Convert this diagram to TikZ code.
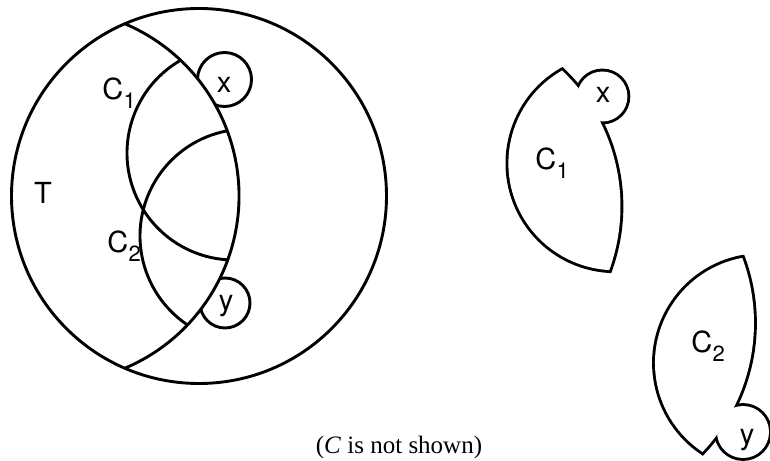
\documentclass[tikz,border=0pt]{standalone}
\usepackage{fontspec}
\setmainfont{Liberation Serif}
\newfontfamily\lettfont{TeX Gyre Heros}
\newcommand{\Csub}[1]{C\kern0.3pt\raisebox{-0.3em}{\fontsize{22}{22}\selectfont #1}}
\begin{document}
\begin{tikzpicture}[x=1pt,y=1pt,line width=2.9pt,line join=miter,
  lbl/.style={font=\lettfont\fontsize{29}{29}\selectfont,inner sep=0pt},
  captext/.style={font=\fontsize{25}{25}\selectfont,inner sep=0pt},
  outl/.style={line width=5.8pt}]
\useasboundingbox (0,0) rectangle (770,460);
% centres
\coordinate (A) at (52,264);
\coordinate (Tc) at (199,264);
\coordinate (K1) at (234,307);
\coordinate (K2) at (247,224);
\coordinate (X) at (224.5,380.5);
\coordinate (Y) at (225,157);
% small circles, hidden inside the lens
\draw (X) circle (27);
\draw (Y) circle (25);
\fill[white] (A) circle (187);
% big circle T and arcs
\draw (Tc) circle (187.5);
\draw (A) ++(-66.9:187) arc[start angle=-66.9,end angle=66.9,radius=187];
\draw (K1) ++(120:107) arc[start angle=120,end angle=266.7,radius=107];
\draw (K2) ++(100.7:107) arc[start angle=100.7,end angle=236.2,radius=107];
% labels left
\node[lbl] (lT) at (43,267) {T};
\node[lbl,anchor=base west] (lC1) at (101,360) {\Csub{1}};
\node[lbl,anchor=base west] (lC2) at (106,207) {\Csub{2}};
\node[lbl,anchor=base] (lx) at (224,367) {x};
\node[lbl,anchor=base] (ly) at (226,149) {y};
% right piece C1 with x
\begin{scope}[shift={(381.4,-10.3)}]
  \coordinate (X1) at (221,373.8);
  \draw[outl] (180.5,399.7) arc[start angle=120,end angle=266.7,radius=107]
     arc[start angle=-19.94,end angle=46.56,radius=187] -- cycle;
  \draw[outl] (X1) circle (25);
  \fill[white] (180.5,399.7) arc[start angle=120,end angle=266.7,radius=107]
     arc[start angle=-19.94,end angle=46.56,radius=187] -- cycle;
  \fill[white] (X1) circle (25);
\end{scope}
% right piece C2 with y
\begin{scope}[shift={(515,-127)}]
  \coordinate (Y1) at (228,155);
  \draw[outl] (227.1,329.1) arc[start angle=100.7,end angle=236.2,radius=107]
     arc[start angle=-43.57,end angle=20.4,radius=187] -- cycle;
  \draw[outl] (Y1) circle (26);
  \fill[white] (227.1,329.1) arc[start angle=100.7,end angle=236.2,radius=107]
     arc[start angle=-43.57,end angle=20.4,radius=187] -- cycle;
  \fill[white] (Y1) circle (26);
\end{scope}
\node[lbl,anchor=base west] (rC1) at (534,290) {\Csub{1}};
\node[lbl,anchor=base] (rx) at (603,357) {x};
\node[lbl,anchor=base west] (rC2) at (690,107) {\Csub{2}};
\node[lbl,anchor=base] (ry) at (747,16) {y};
% caption
\node[captext,anchor=base] (capt) at (399,7) {(\textit{C} is not shown)};
\end{tikzpicture}
\end{document}
